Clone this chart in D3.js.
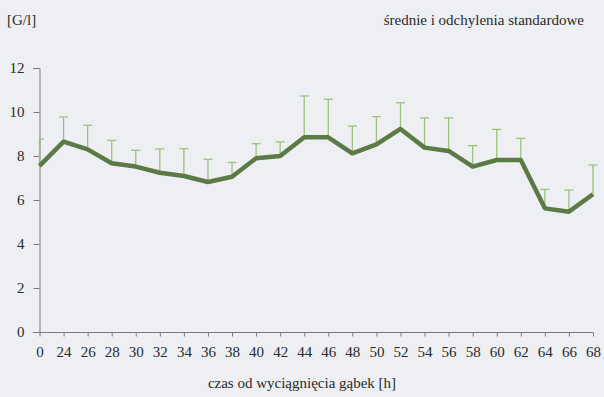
<!DOCTYPE html>
<html>
<head>
<meta charset="utf-8">
<script src="https://cdn.jsdelivr.net/npm/d3@7"></script>
<style>
  html, body { margin: 0; padding: 0; background: #eeeff3; }
  svg { display: block; }
  svg text { font-family: 'Liberation Serif', 'Times New Roman', Times, 'DejaVu Serif', serif; }
</style>
</head>
<body>
<div id="chart"></div>
<script>
// dane
const hours = ['0', '24', '26', '28', '30', '32', '34', '36', '38', '40', '42', '44',
  '46', '48', '50', '52', '54', '56', '58', '60', '62', '64', '66', '68'];
const means = [7.55, 8.65, 8.3, 7.67, 7.52, 7.24, 7.09, 6.82, 7.06, 7.9, 8.0, 8.85,
  8.85, 8.12, 8.53, 9.23, 8.38, 8.23, 7.52, 7.82, 7.82, 5.62, 5.47, 6.26];
const upper = [8.77, 9.77, 9.4, 8.71, 8.26, 8.32, 8.33, 7.85, 7.71, 8.56, 8.64, 10.73,
  10.58, 9.36, 9.79, 10.42, 9.73, 9.73, 8.47, 9.21, 8.8, 6.48, 6.45, 7.59];
const yTicks = [0, 2, 4, 6, 8, 10, 12];

const W = 604, H = 397;

const svg = d3.select('#chart').append('svg')
  .attr('width', W).attr('height', H);

const x = d3.scalePoint().domain(hours).range([39.5, 593]);
const y = d3.scaleLinear().domain([0, 12]).range([332, 68]);

// oś Y
const yAxis = svg.append('g')
  .attr('transform', 'translate(39.5,0)')
  .call(d3.axisLeft(y).tickValues(yTicks).tickSize(6).tickPadding(9))
  .attr('font-family', null).attr('font-size', null);
yAxis.select('.domain').attr('stroke', '#7a7a7a');
yAxis.selectAll('line').attr('stroke', '#7a7a7a');
yAxis.selectAll('text').style('font-size', '15px').attr('fill', '#2a2a2a');

// oś X
const xAxis = svg.append('g')
  .attr('transform', `translate(0,${y(0) + 0.5})`)
  .call(d3.axisBottom(x).tickSizeInner(4).tickSizeOuter(0).tickPadding(10))
  .attr('font-family', null).attr('font-size', null);
xAxis.select('.domain').attr('stroke', '#7a7a7a').attr('d', `M33,0H593`);
xAxis.selectAll('line').attr('stroke', '#7a7a7a');
xAxis.selectAll('text').style('font-size', '15px').attr('fill', '#2a2a2a');

// odchylenia standardowe
const err = svg.append('g').attr('stroke', '#9cc27a').attr('stroke-width', 1.3).attr('fill', 'none');
hours.forEach((h, i) => {
  const cx = x(h);
  err.append('line').attr('x1', cx).attr('x2', cx).attr('y1', y(means[i])).attr('y2', y(upper[i]));
  err.append('line').attr('x1', i === 0 ? cx : cx - 4.5).attr('x2', cx + 4.5)
    .attr('y1', y(upper[i])).attr('y2', y(upper[i]));
});

// średnie
const line = d3.line().x((d, i) => x(hours[i])).y(d => y(d));
svg.append('path')
  .datum(means)
  .attr('d', line)
  .attr('fill', 'none')
  .attr('stroke', '#5b7a45')
  .attr('stroke-width', 4.5)
  .attr('stroke-linejoin', 'round');

// napisy
svg.append('text').attr('x', 7).attr('y', 25)
  .style('font-size', '15px').attr('fill', '#2a2a2a').text('[G/l]');
svg.append('text').attr('x', 584).attr('y', 25).attr('text-anchor', 'end')
  .style('font-size', '15px').attr('fill', '#2a2a2a').text('średnie i odchylenia standardowe');
svg.append('text').attr('x', 302).attr('y', 388).attr('text-anchor', 'middle')
  .style('font-size', '15px').attr('fill', '#2a2a2a').text('czas od wyciągnięcia gąbek [h]');
</script>
</body>
</html>
